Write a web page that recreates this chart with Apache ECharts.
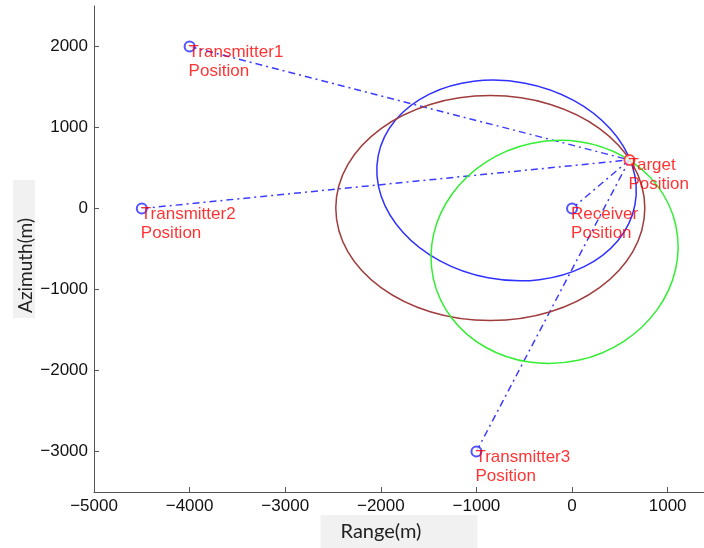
<!DOCTYPE html>
<html>
<head>
<meta charset="utf-8">
<script src="https://cdn.jsdelivr.net/npm/echarts@6/dist/echarts.min.js"></script>
<style>
html,body{margin:0;padding:0;background:#fff;}
#chart{width:704px;height:548px;}
</style>
</head>
<body>
<div id="chart"></div>
<script>
// ---- data ----
const xTicks = [-5000, -4000, -3000, -2000, -1000, 0, 1000];
const yTicks = [-3000, -2000, -1000, 0, 1000, 2000];

const siteNames = ['Transmitter1', 'Transmitter2', 'Transmitter3', 'Receiver'];
const siteX = [-4000, -4500, -1000, 0];
const siteY = [2000, 0, -3000, 0];

const targetName = 'Target';
const targetX = 600;
const targetY = 600;

// ellipses: centre, semi-axes (x-units, y-units), tilt in degrees
const ellipseNames = ['Blue ellipse', 'Brown ellipse', 'Green ellipse'];
const ellipseCenterX = [-685, -855, -183];
const ellipseCenterY = [346, 5, -536];
const ellipseSemiX = [1367, 1616, 1298];
const ellipseSemiY = [1223, 1389, 1370];
const ellipseTilt = [-10.8, 0, 12.3];
const ellipseColors = ['#3030ff', '#a03c3c', '#33ee33'];

// ---- chart ----
const fmt = v => String(v).replace('-', '\u2212');
const labelFont = 'Liberation Sans, Arial, Helvetica, sans-serif';

const series = [];

// dash-dot links from each site to the target
siteNames.forEach((n, i) => {
  series.push({
    type: 'line',
    name: n + ' link',
    data: [[siteX[i], siteY[i]], [targetX, targetY]],
    symbol: 'none',
    silent: true,
    lineStyle: { color: '#3c3cff', width: 1.5, type: [7, 4, 2, 4] },
    z: 2
  });
});

// ellipses
series.push({
  type: 'custom',
  name: 'ellipses',
  silent: true,
  encode: { x: 0, y: 1 },
  data: ellipseNames.map((n, i) => [ellipseCenterX[i], ellipseCenterY[i], ellipseSemiX[i], ellipseSemiY[i], ellipseTilt[i], i]),
  renderItem: function (params, api) {
    const c = api.coord([api.value(0), api.value(1)]);
    const s = api.size([api.value(2), api.value(3)]);
    const idx = api.value(5);
    return {
      type: 'ellipse',
      x: c[0],
      y: c[1],
      rotation: api.value(4) * Math.PI / 180,
      shape: { cx: 0, cy: 0, rx: s[0], ry: s[1] },
      style: { fill: 'none', stroke: ellipseColors[idx], lineWidth: 1.5 }
    };
  },
  z: 3
});

const labelStyle = {
  show: true,
  position: [5, 2],
  align: 'left',
  verticalAlign: 'top',
  color: '#ff0000',
  fontFamily: labelFont,
  fontSize: 17,
  lineHeight: 19
};

// sites
series.push({
  type: 'scatter',
  name: 'sites',
  data: siteNames.map((n, i) => ({ name: n, value: [siteX[i], siteY[i]] })),
  symbol: 'emptyCircle',
  symbolSize: 10,
  itemStyle: { color: '#2828ff', borderColor: '#2828ff', borderWidth: 1.3 },
  label: Object.assign({}, labelStyle, { formatter: p => p.name + '\nPosition' }),
  z: 5
});

// target
series.push({
  type: 'scatter',
  name: 'target',
  data: [{ name: targetName, value: [targetX, targetY] }],
  symbol: 'emptyCircle',
  symbolSize: 10,
  itemStyle: { color: '#ff2020', borderColor: '#ff2020', borderWidth: 1.3 },
  label: Object.assign({}, labelStyle, { formatter: p => p.name + '\nPosition' }),
  z: 5
});

const axisLineStyle = { color: '#555', width: 1 };

const option = {
  animation: false,
  backgroundColor: '#ffffff',
  grid: { left: 94, top: 6, right: 0, bottom: 56, containLabel: false, outerBoundsMode: 'none' },
  xAxis: {
    type: 'value',
    min: -5000,
    max: 1380,
    name: 'Range(m)',
    nameLocation: 'middle',
    nameGap: 23,
    nameMoveOverlap: false,
    nameTextStyle: {
      fontFamily: 'Lato, sans-serif',
      fontSize: 20,
      lineHeight: 20,
      color: '#222',
      backgroundColor: '#f1f1f1',
      padding: [7, 56, 6, 20]
    },
    splitLine: { show: false },
    axisLine: { show: true, onZero: false, lineStyle: axisLineStyle },
    axisTick: { show: true, inside: true, length: 5, lineStyle: axisLineStyle, customValues: xTicks },
    axisLabel: {
      customValues: xTicks,
      formatter: fmt,
      margin: 6,
      color: '#111',
      fontFamily: labelFont,
      fontSize: 17
    }
  },
  yAxis: {
    type: 'value',
    min: -3500,
    max: 2500,
    name: 'Azimuth(m)',
    nameLocation: 'middle',
    nameGap: 59,
    nameMoveOverlap: false,
    nameTextStyle: {
      fontFamily: 'Lato, sans-serif',
      fontSize: 19,
      lineHeight: 18,
      color: '#222',
      backgroundColor: '#f1f1f1',
      padding: [4, 38, 0, 5]
    },
    splitLine: { show: false },
    axisLine: { show: true, onZero: false, lineStyle: axisLineStyle },
    axisTick: { show: true, inside: true, length: 5, lineStyle: axisLineStyle, customValues: yTicks },
    axisLabel: {
      customValues: yTicks,
      formatter: fmt,
      margin: 6,
      color: '#111',
      fontFamily: labelFont,
      fontSize: 17
    }
  },
  series: series
};

const chart = echarts.init(document.getElementById('chart'), null, { renderer: 'canvas' });
chart.setOption(option);
</script>
</body>
</html>
